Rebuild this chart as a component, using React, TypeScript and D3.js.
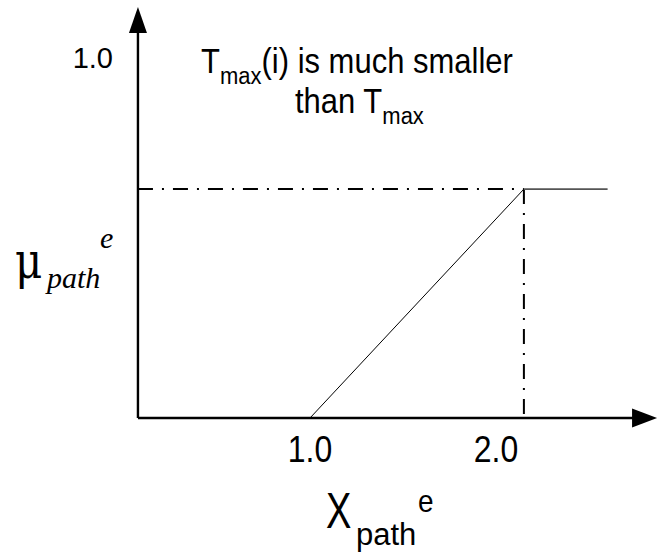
import React from "react";
import * as d3 from "d3";

// values
const xTicks = [1.0, 2.0];
const yTicks = [1.0];
const curveX = [1.0, 2.15, 2.6];
const curveY = [0, 0.635, 0.635];
const xAxisRange = [0.075, 2.866];
const yAxisRange = [0, 1.14];

const W = 658;
const H = 552;
const sans = "'Liberation Sans', Arial, sans-serif";
const serif = "'Liberation Serif', 'Times New Roman', serif";

const x = d3.scaleLinear().domain([1, 2]).range([310, 496]);
const y = d3.scaleLinear().domain([0, 1]).range([418, 57.5]);

export default function App() {
  const x0 = x(xAxisRange[0]);
  const y0 = y(yAxisRange[0]);
  const xEnd = x(xAxisRange[1]);
  const yEnd = y(yAxisRange[1]);

  const line = d3.line<number>().x((d) => x(curveX[d])).y((d) => y(curveY[d]));
  const cx = x(curveX[1]);
  const cy = y(curveY[1]);
  const dashDot = "15 9 2 9";

  return (
    <svg
      width={W}
      height={H}
      style={{ position: "absolute", left: 0, top: 0, background: "#fff" }}
    >
      {/* guide lines to the saturation point */}
      <line x1={x0} y1={cy} x2={cx} y2={cy} stroke="#000" strokeWidth={2} strokeDasharray={dashDot} />
      <line x1={cx} y1={cy} x2={cx} y2={y0} stroke="#000" strokeWidth={2} strokeDasharray={dashDot} />

      {/* membership curve */}
      <path d={line([0, 1]) || ""} fill="none" stroke="#000" strokeWidth={1} />
      <path d={line([1, 2]) || ""} fill="none" stroke="#555" strokeWidth={1.6} />

      {/* axes */}
      <line x1={x0} y1={y0} x2={xEnd - 20} y2={y0} stroke="#000" strokeWidth={2.4} />
      <line x1={x0} y1={y0} x2={x0} y2={yEnd + 20} stroke="#000" strokeWidth={2.4} />
      <path d={`M${xEnd},${y0} L${xEnd - 25},${y0 - 9.5} L${xEnd - 25},${y0 + 9.5} Z`} fill="#000" />
      <path d={`M${x0},${yEnd} L${x0 - 9},${yEnd + 26} L${x0 + 9},${yEnd + 26} Z`} fill="#000" />

      {/* tick labels */}
      {xTicks.map((t) => (
        <text
          key={"x" + t}
          transform={`translate(${x(t)},462) scale(1,1.18)`}
          textAnchor="middle"
          fontFamily={sans}
          fontSize={32}
        >
          {d3.format(".1f")(t)}
        </text>
      ))}
      {yTicks.map((t) => (
        <text
          key={"y" + t}
          x={113}
          y={y(t) + 10.5}
          textAnchor="end"
          fontFamily={sans}
          fontSize={29}
        >
          {d3.format(".1f")(t)}
        </text>
      ))}

      {/* annotation */}
      <text transform="translate(201,73) scale(1,1.12)" fontFamily={sans} fontSize={31}>
        T
        <tspan fontSize={22} dy={10}>max</tspan>
        <tspan dy={-10}>(i) is much smaller</tspan>
      </text>
      <text transform="translate(295,113) scale(1,1.12)" fontFamily={sans} fontSize={31}>
        than T
        <tspan fontSize={22} dy={10}>max</tspan>
      </text>

      {/* y axis title */}
      <text transform="translate(15,278) scale(1,1.2)" fontFamily="'DejaVu Serif', serif" fontSize={42}>
        μ
      </text>
      <text x={47} y={288} fontFamily={serif} fontStyle="italic" fontSize={30}>
        path
      </text>
      <text x={100} y={248} fontFamily={serif} fontStyle="italic" fontSize={30}>
        e
      </text>

      {/* x axis title */}
      <text transform="translate(326,528) scale(1,1.3)" fontFamily={sans} fontSize={38}>
        X
      </text>
      <text x={356} y={545} fontFamily={sans} fontSize={31}>
        path
      </text>
      <text transform="translate(418,512) scale(1,1.15)" fontFamily={sans} fontSize={28}>
        e
      </text>
    </svg>
  );
}
